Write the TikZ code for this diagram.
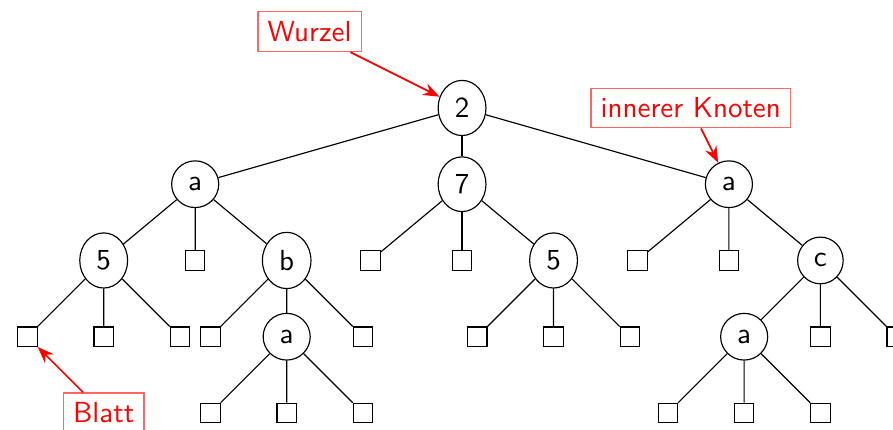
\documentclass[tikz,border=0pt]{standalone}
\usepackage{tikz}
\usetikzlibrary{
	arrows.meta,
	shapes.geometric
}
\usepackage{xcolor}

\begin{document}
\begin{tikzpicture}[
			inner/.style={ellipse,draw,font=\sffamily},
			leaf/.style={rectangle,draw},
			hint/.style={rectangle,draw=red!60,text=red,font=\sffamily},
			>=Stealth,
			scale=0.924
			]
			\useasboundingbox (-6.06,-4.223) rectangle (5.652,1.416);
			
			% Root
			\node[inner] (n) at (0,0){2};
			
			% Level 1
			\node[inner] (n1) at (-3.5,-1){a};
			\node[inner] (n2) at (0,-1){7};
			\node[inner] (n3) at (3.5,-1){a};
			
			% Level 2
			\node[inner] (n11) at (-4.7,-2){5};
			\node[leaf]  (n12) at (-3.5,-2){};
			\node[inner] (n13) at (-2.3,-2){b};
			\node[leaf]  (n21) at (-1.2,-2){};
			\node[leaf]  (n22) at (0,-2){};
			\node[inner] (n23) at (1.2,-2){5};
			\node[leaf]  (n31) at (2.3,-2){};
			\node[leaf]  (n32) at (3.5,-2){};
			\node[inner] (n33) at (4.7,-2){c};
			
			% Level 3
			\node[leaf]  (n111) at (-5.7,-3){};
			\node[leaf]  (n112) at (-4.7,-3){};
			\node[leaf]  (n113) at (-3.7,-3){};
			\node[leaf]  (n131) at (-3.3,-3){};
			\node[inner] (n132) at (-2.3,-3){a};
			\node[leaf]  (n133) at (-1.3,-3){};
			\node[leaf]  (n231) at (0.2,-3){};
			\node[leaf]  (n232) at (1.2,-3){};
			\node[leaf]  (n233) at (2.2,-3){};
			\node[inner] (n331) at (3.7,-3){a};
			\node[leaf]  (n332) at (4.7,-3){};
			\node[leaf]  (n333) at (5.7,-3){};
			
			% Level 4
			\node[leaf]  (n1321) at (-3.3,-4){};
			\node[leaf]  (n1322) at (-2.3,-4){};
			\node[leaf]  (n1323) at (-1.3,-4){};
			\node[leaf]  (n3311) at (2.7,-4){};
			\node[leaf]  (n3312) at (3.7,-4){};
			\node[leaf]  (n3313) at (4.7,-4){};
			
			% Edges
			\foreach \p in {n,n1,n2,n3,n11,n13,n23,n33,n132,n331}
			{
				\foreach \i in {1,2,3}
				{
					\draw (\p)--(\p\i);
				}
			}
			
			% Annotations
			\node[hint] (wurzel) at (-2,1){Wurzel};
			\node[hint] (knoten) at (3,0){innerer Knoten};
			\node[hint] (blatt) at (-4.7,-4){Blatt};
			
			\draw[->,red,semithick](wurzel)--(n);
			\draw[->,red,semithick](knoten)--(n3);
			\draw[->,red,semithick](blatt)--(n111);
			
		\end{tikzpicture}
\end{document}
